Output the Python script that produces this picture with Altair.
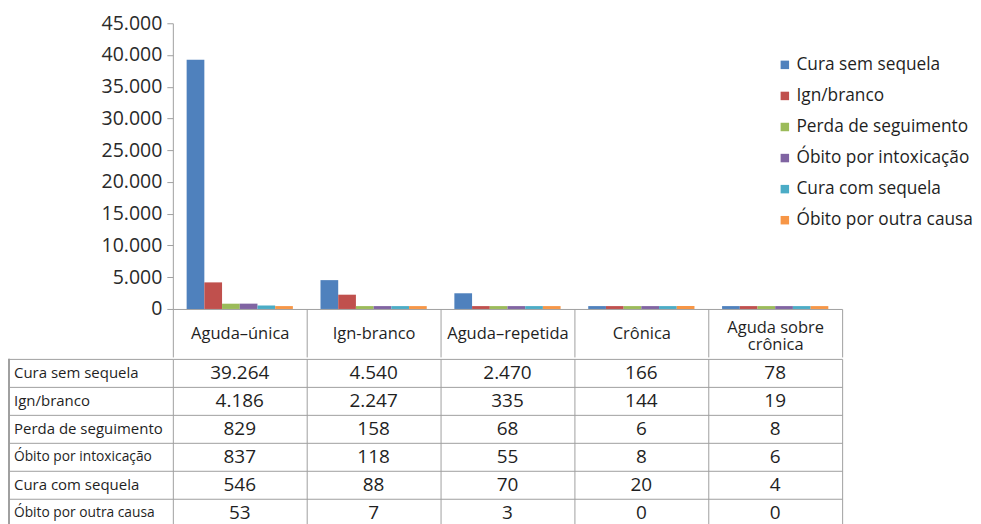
import altair as alt
import pandas as pd

categories = ["Aguda–única", "Ign-branco", "Aguda–repetida", "Crônica", "Aguda sobre crônica"]
series = ["Cura sem sequela", "Ign/branco", "Perda de seguimento",
          "Óbito por intoxicação", "Cura com sequela", "Óbito por outra causa"]
cura_sem_sequela = [39264, 4540, 2470, 166, 78]
ign_branco = [4186, 2247, 335, 144, 19]
perda_seguimento = [829, 158, 68, 6, 8]
obito_intoxicacao = [837, 118, 55, 8, 6]
cura_com_sequela = [546, 88, 70, 20, 4]
obito_outra_causa = [53, 7, 3, 0, 0]
colors = ["#4F81BD", "#C0504D", "#9BBB59", "#8064A2", "#4BACC6", "#F79646"]
y_ticks = [0, 5000, 10000, 15000, 20000, 25000, 30000, 35000, 40000, 45000]

values_by_series = [cura_sem_sequela, ign_branco, perda_seguimento,
                    obito_intoxicacao, cura_com_sequela, obito_outra_causa]
rows = []
for s, vals in zip(series, values_by_series):
    for c, v in zip(categories, vals):
        rows.append({"category": c, "series": s, "value": v})
df = pd.DataFrame(rows)
row_df = pd.DataFrame({"series": series})

FONT = "Open Sans"
GRID = "#A0A0A0"
TXT = "#1f1f1f"
fmt = "replace(format(datum.value, ','), ',', '.')"

bars = alt.Chart(df).transform_calculate(
    shown="max(datum.value, 450)"
).mark_bar().encode(
    x=alt.X("category:N", sort=categories,
            scale=alt.Scale(paddingInner=0, paddingOuter=0),
            axis=alt.Axis(title=None, orient="bottom", tickBand="extent", tickSize=48,
                          tickColor=GRID, domainColor=GRID, labelAngle=0,
                          labelPadding={"condition": {"test": "datum.value == 'Aguda sobre crônica'",
                                                      "value": -29},
                                        "value": -23},
                          labelBaseline="middle", labelFont=FONT,
                          labelFontSize=16.5, labelColor=TXT, labelLineHeight=17,
                          labelOverlap=False,
                          labelExpr="datum.value == 'Aguda sobre crônica' ? ['Aguda sobre', 'crônica'] : datum.value")),
    xOffset=alt.XOffset("series:N", sort=series,
                        scale=alt.Scale(domain=series, paddingInner=0, paddingOuter=0.78)),
    y=alt.Y("shown:Q", scale=alt.Scale(domain=[0, 45000], nice=False),
            axis=alt.Axis(title=None, values=y_ticks, labelExpr=fmt, grid=False,
                          tickSize=6, tickColor=GRID, domainColor=GRID, labelFont=FONT,
                          labelFontSize=19.5, labelColor="#2a2a2a", labelPadding=5,
                          minExtent=164, maxExtent=164)),
    color=alt.Color("series:N", sort=series,
                    scale=alt.Scale(domain=series, range=colors),
                    legend=alt.Legend(title=None, orient="none", legendX=604, legendY=33,
                                      symbolType="square", symbolSize=72,
                                      symbolStrokeWidth=0, labelFont=FONT,
                                      labelFontSize=17.3, labelColor=TXT, labelLimit=300,
                                      rowPadding=13.1, labelOffset=3, padding=0)),
).properties(width=670, height=286)

table_text = alt.Chart(df).transform_calculate(
    label=fmt
).mark_text(font=FONT, fontSize=19, color=TXT).encode(
    x=alt.X("category:N", sort=categories,
            scale=alt.Scale(paddingInner=0, paddingOuter=0),
            axis=alt.Axis(title=None, labels=False, ticks=False, domain=False, grid=True,
                          tickBand="extent", gridColor=GRID)),
    y=alt.Y("series:N", sort=series,
            scale=alt.Scale(domain=series, paddingInner=0, paddingOuter=0),
            axis=alt.Axis(title=None, tickBand="extent", tickSize=164, tickColor=GRID,
                          domain=False, grid=True, gridColor=GRID, labels=False,
                          minExtent=164, maxExtent=164)),
    text="label:N",
)

row_labels = alt.Chart(row_df).mark_text(font=FONT, color=TXT, align="left").encode(
    y=alt.Y("series:N", sort=series),
    x=alt.value(-159),
    text="series:N",
    size=alt.condition("indexof(datum.series, 'Óbito') == 0", alt.value(13.8), alt.value(15)),
)

left_border = alt.Chart(row_df).mark_rule(color=GRID).encode(
    x=alt.value(-164), y=alt.value(0), y2=alt.value(168)
)

table = alt.layer(table_text, row_labels, left_border).properties(width=670, height=168)

chart = alt.vconcat(bars, table, spacing=0).properties(
    padding={"left": 0, "top": 4, "right": 0, "bottom": 0}
).configure_view(stroke="transparent")

chart.save("out.html", embed_options={"renderer": "svg", "actions": False})
